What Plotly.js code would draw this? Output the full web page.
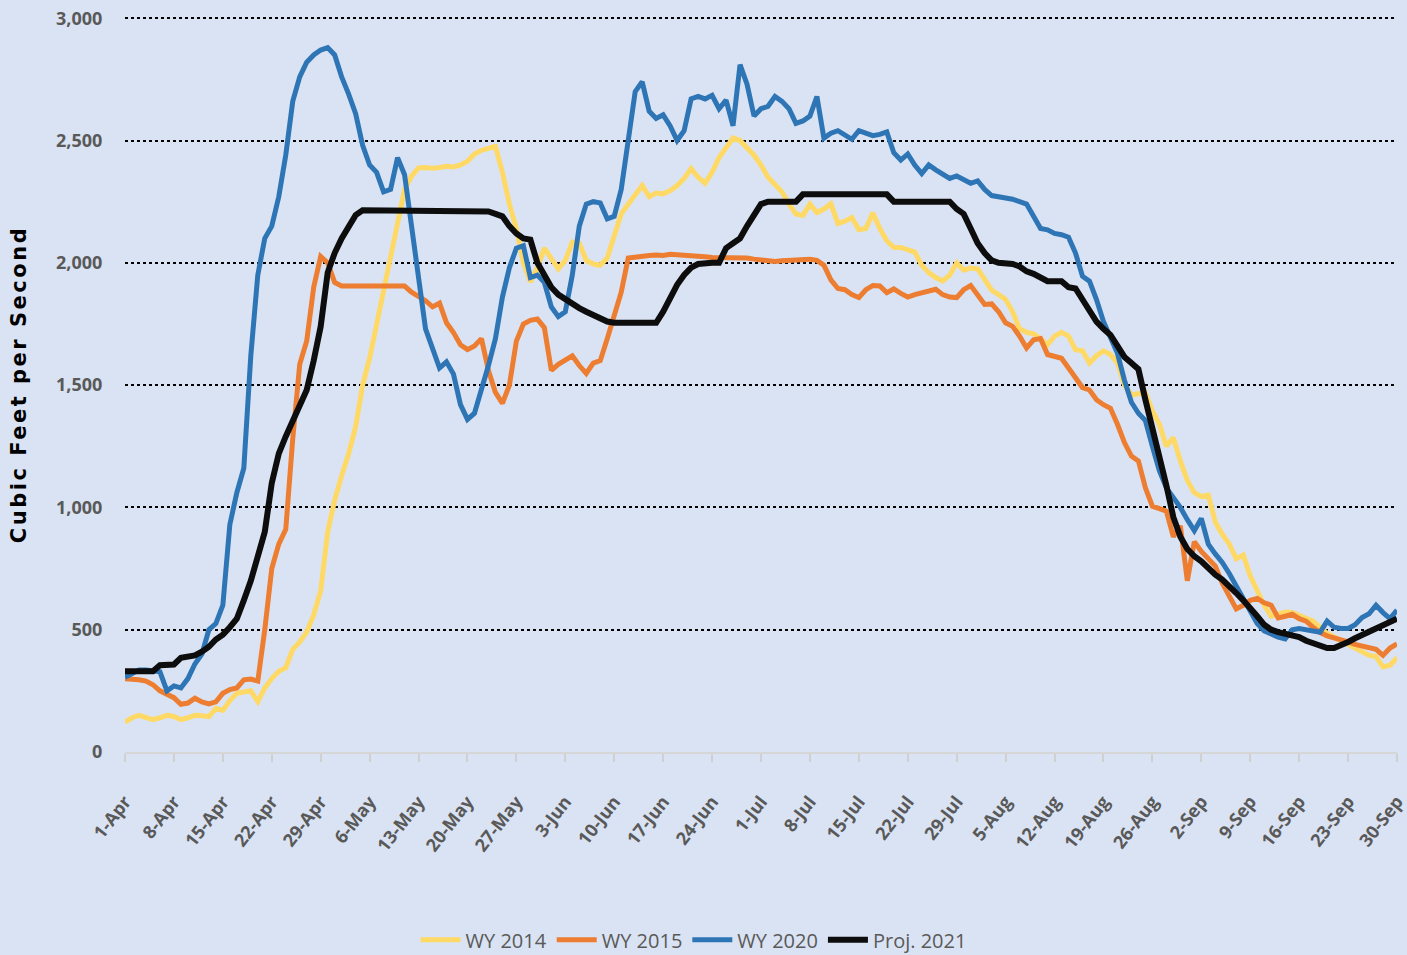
<!DOCTYPE html>
<html>
<head>
<meta charset="utf-8">
<script src="https://cdn.plot.ly/plotly-3.0.1.min.js"></script>
<style>
  html, body { margin: 0; padding: 0; background: #dae3f3; }
  #chart { width: 1407px; height: 955px; }
  .g-ytitle text { letter-spacing: 2.5px; }
</style>
</head>
<body>
<div id="chart"></div>
<script>
// Daily flows, 1-Apr (index 0) through 30-Sep (index 182), cubic feet per second
const wy2014 = [
  122,140,150,142,132,140,150,145,132,140,
  150,148,145,178,170,210,240,245,250,206,
  262,300,330,345,420,450,490,560,660,900,
  1030,1130,1220,1330,1500,1610,1750,1900,2040,2170,
  2300,2355,2388,2390,2387,2390,2395,2392,2400,2415,
  2445,2460,2470,2476,2370,2240,2140,2000,1922,1980,
  2060,2020,1975,2010,2085,2080,2010,1995,1990,2020,
  2110,2200,2240,2280,2316,2270,2285,2282,2295,2316,
  2345,2385,2350,2325,2370,2430,2470,2510,2500,2470,
  2440,2400,2350,2320,2290,2240,2200,2194,2240,2205,
  2220,2241,2160,2170,2185,2135,2140,2205,2140,2090,
  2063,2063,2055,2044,1990,1960,1940,1926,1950,2000,
  1970,1979,1975,1935,1888,1870,1850,1800,1730,1716,
  1710,1690,1665,1700,1716,1700,1645,1640,1590,1620,
  1640,1625,1590,1500,1460,1465,1470,1395,1340,1250,
  1285,1190,1110,1060,1045,1050,940,890,850,790,
  805,720,660,600,555,565,572,570,560,545,
  535,510,485,470,455,440,420,405,395,390,
  348,355,385
];
const wy2015 = [
  300,300,295,290,275,250,235,222,195,200,
  220,205,197,205,240,255,262,295,298,290,
  500,750,850,910,1280,1585,1680,1900,2026,2000,
  1920,1905,1905,1905,1905,1905,1905,1905,1905,1905,
  1905,1880,1865,1845,1820,1835,1755,1715,1665,1645,
  1660,1690,1560,1470,1425,1500,1680,1750,1765,1770,
  1735,1560,1585,1605,1620,1580,1548,1590,1600,1690,
  1780,1880,2020,2025,2028,2030,2032,2030,2035,2032,
  2030,2028,2025,2025,2022,2022,2020,2020,2018,2020,
  2015,2010,2007,2005,2008,2010,2012,2015,2015,2010,
  1990,1930,1895,1890,1870,1858,1890,1907,1905,1878,
  1893,1875,1860,1870,1878,1885,1892,1870,1860,1858,
  1890,1907,1865,1830,1832,1800,1755,1740,1700,1652,
  1685,1690,1625,1615,1610,1570,1530,1490,1480,1440,
  1420,1405,1340,1265,1210,1190,1080,1005,995,985,
  880,925,700,860,820,790,760,690,640,585,
  600,620,628,610,600,548,555,563,545,535,
  510,488,475,468,458,450,440,432,425,420,
  395,425,442
];
const wy2020 = [
  306,320,335,335,330,328,250,270,262,300,
  360,400,500,525,600,930,1060,1160,1620,1950,
  2100,2150,2270,2440,2660,2760,2820,2850,2870,2880,
  2850,2760,2690,2610,2480,2400,2370,2290,2300,2430,
  2360,2150,1920,1730,1650,1570,1595,1545,1420,1360,
  1385,1480,1580,1690,1860,1980,2060,2070,1940,1950,
  1920,1820,1780,1800,1950,2150,2240,2250,2245,2180,
  2190,2300,2500,2700,2740,2620,2590,2605,2560,2500,
  2540,2670,2680,2670,2685,2630,2665,2560,2810,2730,
  2600,2630,2640,2680,2660,2630,2570,2580,2600,2680,
  2510,2530,2540,2520,2505,2540,2530,2520,2525,2535,
  2450,2420,2445,2400,2365,2400,2380,2360,2345,2355,
  2340,2325,2335,2300,2275,2268,2265,2260,2250,2240,
  2190,2140,2135,2120,2115,2105,2040,1945,1925,1850,
  1760,1690,1630,1520,1430,1385,1355,1250,1150,1080,
  1040,1000,950,905,955,850,810,775,730,680,
  625,580,525,495,480,470,462,500,505,500,
  495,490,535,510,505,505,520,550,565,600,
  570,545,580
];
const proj2021 = [
  330,330,330,330,330,355,355,358,385,390,
  395,410,430,460,480,510,545,620,700,800,
  900,1100,1220,1290,1350,1410,1480,1600,1740,1960,
  2040,2100,2150,2195,2215,2215,2215,2215,2215,2215,
  2215,2215,2215,2215,2215,2215,2215,2215,2215,2215,
  2215,2215,2210,2200,2190,2150,2120,2100,2095,2000,
  1950,1900,1870,1850,1835,1815,1800,1785,1770,1760,
  1755,1755,1755,1755,1755,1755,1755,1800,1860,1910,
  1950,1980,1995,2000,2000,2000,2060,2080,2100,2150,
  2200,2240,2250,2250,2250,2250,2250,2280,2280,2280,
  2280,2280,2280,2280,2280,2280,2280,2280,2280,2280,
  2250,2250,2250,2250,2250,2250,2250,2250,2250,2220,
  2200,2140,2080,2040,2010,2000,2000,1995,1985,1965,
  1955,1940,1925,1925,1925,1900,1895,1850,1800,1760,
  1730,1705,1660,1615,1590,1565,1440,1330,1200,1090,
  960,880,830,800,780,750,725,705,680,650,
  620,590,555,520,500,490,485,478,470,455,
  445,435,425,425,435,450,465,478,488,500,
  515,530,545
];
const seriesNames = ['WY 2014', 'WY 2015', 'WY 2020', 'Proj. 2021'];
const tickLabels = ['1-Apr','8-Apr','15-Apr','22-Apr','29-Apr','6-May','13-May','20-May','27-May',
  '3-Jun','10-Jun','17-Jun','24-Jun','1-Jul','8-Jul','15-Jul','22-Jul','29-Jul','5-Aug',
  '12-Aug','19-Aug','26-Aug','2-Sep','9-Sep','16-Sep','23-Sep','30-Sep'];
const yTicks = [0, 500, 1000, 1500, 2000, 2500, 3000];
const yTickLabels = ['0', '500', '1,000', '1,500', '2,000', '2,500', '3,000'];

const colors = ['#ffd966', '#ed7d31', '#2e75b6', '#0d0d0d'];
const widths = [5, 5, 5, 6];
const allSeries = [wy2014, wy2015, wy2020, proj2021];
const dayIndex = arr => arr.map((_, i) => i);
const tickVals = tickLabels.map((_, i) => i * 7);

const traces = allSeries.map((ys, k) => ({
  type: 'scatter', mode: 'lines', name: seriesNames[k],
  x: dayIndex(ys), y: ys,
  line: { color: colors[k], width: widths[k], shape: 'linear' },
  hoverinfo: 'x+y+name'
}));

const sansFont = '"Open Sans", Roboto, sans-serif';

const layout = {
  width: 1407, height: 955,
  margin: { l: 125, r: 10, t: 17, b: 203, autoexpand: false },
  paper_bgcolor: '#dae3f3', plot_bgcolor: '#dae3f3',
  showlegend: true,
  legend: {
    orientation: 'h', xref: 'paper', x: 0.447, xanchor: 'center',
    yref: 'container', y: 0.016, yanchor: 'middle',
    font: { family: sansFont, size: 20, color: '#595959' },
    bgcolor: 'rgba(0,0,0,0)', itemwidth: 40, tracegroupgap: 0
  },
  xaxis: {
    range: [0, 182], tickmode: 'array', tickvals: tickVals, ticktext: tickLabels,
    tickangle: -52, ticks: 'outside', ticklen: 8, tickwidth: 1.5, tickcolor: '#d0d0d0',
    ticklabelstandoff: 22, ticklabeloverflow: 'allow',
    showline: true, linecolor: '#d6d6d6', linewidth: 2,
    showgrid: false, zeroline: false,
    tickfont: { family: sansFont, size: 18, color: '#595959', weight: 'bold' },
    automargin: false, fixedrange: true
  },
  yaxis: {
    range: [0, 3005], tickmode: 'array', tickvals: yTicks, ticktext: yTickLabels,
    ticks: 'outside', ticklen: 18, tickcolor: 'rgba(0,0,0,0)',
    showgrid: true, gridcolor: '#000000', gridwidth: 1.5, griddash: 'dot',
    zeroline: false, showline: false,
    tickfont: { family: sansFont, size: 18, color: '#595959', weight: 'bold' },
    title: { text: 'Cubic Feet per Second', standoff: 23,
      font: { family: '"DejaVu Sans", Verdana, sans-serif', size: 21, color: '#000000', weight: 'bold' } },
    automargin: false, fixedrange: true
  }
};

Plotly.newPlot('chart', traces, layout, { displayModeBar: false });
</script>
</body>
</html>
